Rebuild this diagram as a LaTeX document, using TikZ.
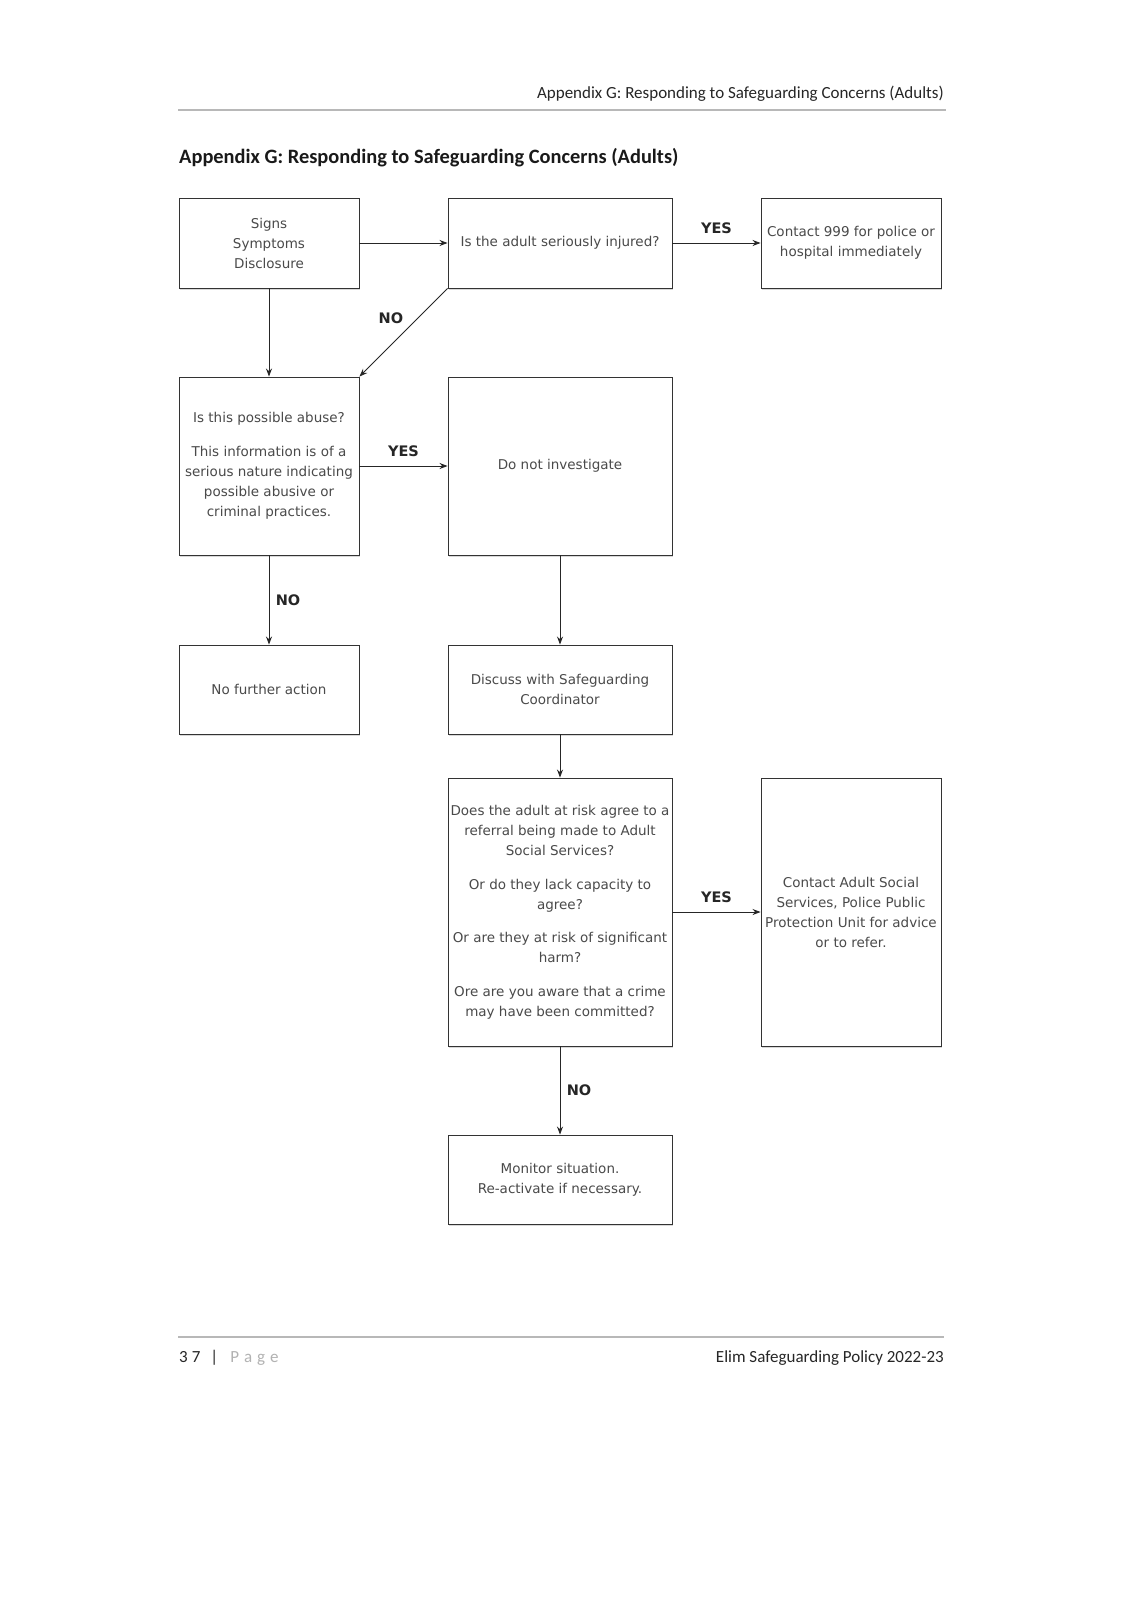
\documentclass[tikz,border=0pt]{standalone}
\usepackage{fontspec}
\setmainfont{Carlito}
\newfontfamily\boxfont{DejaVu Sans}
\usetikzlibrary{arrows.meta,shadows}
\definecolor{boxtext}{HTML}{4A4A4A}
\definecolor{rulegray}{HTML}{B8B8B8}
\tikzset{
  box/.style={draw=black!80, line width=0.9pt, fill=white, align=center, inner sep=1pt,
    font=\boxfont\fontsize{13.5}{20}\selectfont, text=boxtext,
    drop shadow={shadow xshift=1pt, shadow yshift=-2pt, opacity=0.3, fill=black!50}},
  conn/.style={draw=black!85, line width=0.9pt, -{Stealth[length=8pt,width=6pt]}},
  lbl/.style={font=\boxfont\bfseries\fontsize{14.5}{16}\selectfont, text=black!85},
}
\begin{document}
\begin{tikzpicture}[x=1pt,y=-1pt]
\useasboundingbox[fill=white] (0,0) rectangle (1132,1600);
% header
\node[anchor=base east, font=\fontsize{17}{20}\selectfont, text=black!85, inner sep=0] (hdr) at (944,99) {Appendix G: Responding to Safeguarding Concerns (Adults)};
\draw[rulegray, line width=1.2pt] (178,110) coordinate (hl) -- (946,110) coordinate (hr);
\node[anchor=base west, font=\bfseries\fontsize{20.4}{22}\selectfont, text=black!90, inner sep=0] (title) at (179,164) {Appendix G: Responding to Safeguarding Concerns (Adults)};
% boxes
\node[box, minimum width=180pt, minimum height=90pt] (A) at (269,243) {Signs\\Symptoms\\Disclosure};
\node[box, minimum width=224pt, minimum height=90pt] (B) at (560,243) {Is the adult seriously injured?};
\node[box, minimum width=180pt, minimum height=90pt] (C) at (851,243) {Contact 999 for police or\\hospital immediately};
\node[box, minimum width=180pt, minimum height=178pt] (D) at (269,466) {Is this possible abuse?\\[14pt]This information is of a\\serious nature indicating\\possible abusive or\\criminal practices.};
\node[box, minimum width=224pt, minimum height=178pt] (E) at (560,466) {Do not investigate};
\node[box, minimum width=180pt, minimum height=89pt] (F) at (269,689.5) {No further action};
\node[box, minimum width=224pt, minimum height=89pt] (G) at (560,689.5) {Discuss with Safeguarding\\Coordinator};
\node[box, minimum width=224pt, minimum height=268pt, inner sep=0pt] (H) at (560,912) {Does the adult at risk agree to a\\referral being made to Adult\\Social Services?\\[14pt]Or do they lack capacity to\\agree?\\[13pt]Or are they at risk of significant\\harm?\\[14pt]Ore are you aware that a crime\\may have been committed?};
\node[box, minimum width=180pt, minimum height=268pt, inner sep=0pt] (I) at (851,912) {Contact Adult Social\\Services, Police Public\\Protection Unit for advice\\or to refer.};
\node[box, minimum width=224pt, minimum height=89pt] (J) at (560,1179.5) {Monitor situation.\\Re-activate if necessary.};
% connectors
\draw[conn] (A.east) -- (B.west);
\draw[conn] (B.east) -- node[lbl, above=6pt] (yes1) {YES} (C.west);
\draw[conn] (A.south) -- (D.north);
\draw[conn] (B.south west) -- node[lbl, pos=0.45, above left=1pt] (no1) {NO} (D.north east);
\draw[conn] (D.east) -- node[lbl, above=6pt] (yes2) {YES} (E.west);
\draw[conn] (D.south) -- node[lbl, right=3pt] (no2) {NO} (F.north);
\draw[conn] (E.south) -- (G.north);
\draw[conn] (G.south) -- (H.north);
\draw[conn] (H.east) -- node[lbl, above=6pt] (yes3) {YES} (I.west);
\draw[conn] (H.south) -- node[lbl, right=3pt] (no3) {NO} (J.north);
% footer
\draw[rulegray, line width=1.2pt] (178,1337) coordinate (fl) -- (944,1337) coordinate (fr);
\node[anchor=base west, font=\fontsize{17}{20}\selectfont, text=black!85, inner sep=0] (pg) at (179,1362) {3\hspace{4pt}7\hspace{10pt}|\hspace{12pt}\textcolor{black!30}{P\hspace{5pt}a\hspace{5pt}g\hspace{5pt}e}};
\node[anchor=base east, font=\fontsize{17}{20}\selectfont, text=black!85, inner sep=0] (ftr) at (944,1362) {Elim Safeguarding Policy 2022-23};
\end{tikzpicture}
\end{document}
